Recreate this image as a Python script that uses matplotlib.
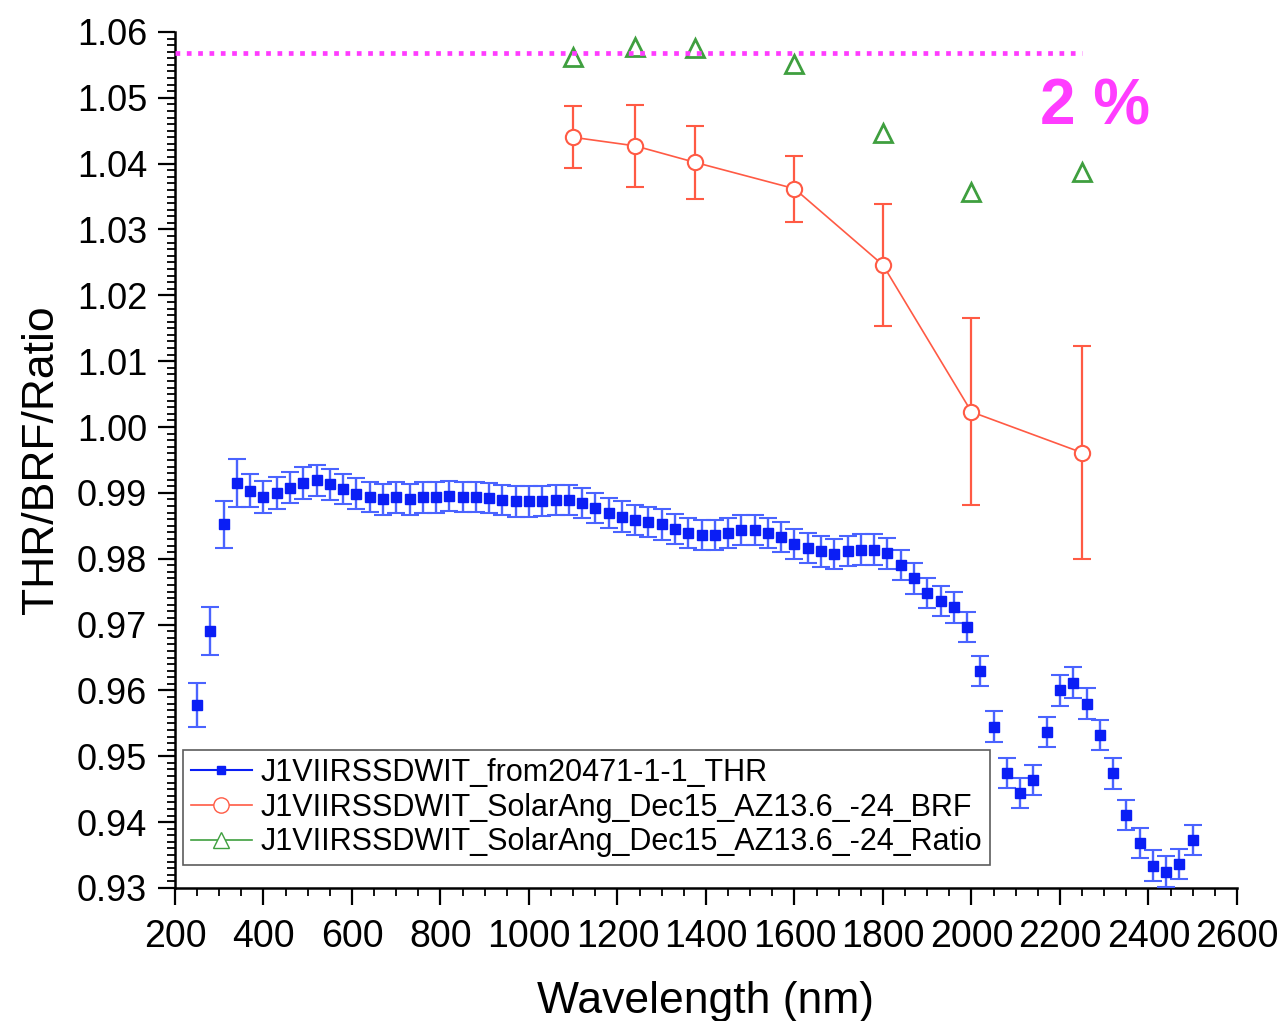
import matplotlib
matplotlib.use("Agg")
import matplotlib.pyplot as plt
from matplotlib.lines import Line2D
from matplotlib.ticker import MultipleLocator, FormatStrFormatter

plt.rcParams['font.family'] = ['Liberation Sans', 'DejaVu Sans']

# THR spectrum (blue squares)
wl_thr = [250, 280, 310, 340, 370, 400, 430, 460, 490, 520,
          550, 580, 610, 640, 670, 700, 730, 760, 790, 820,
          850, 880, 910, 940, 970, 1000, 1030, 1060, 1090, 1120,
          1150, 1180, 1210, 1240, 1270, 1300, 1330, 1360, 1390, 1420,
          1450, 1480, 1510, 1540, 1570, 1600, 1630, 1660, 1690, 1720,
          1750, 1780, 1810, 1840, 1870, 1900, 1930, 1960, 1990, 2020,
          2050, 2080, 2110, 2140, 2170, 2200, 2230, 2260, 2290, 2320,
          2350, 2380, 2410, 2440, 2470, 2500]
thr = [0.9578, 0.9690, 0.9852, 0.9915, 0.9903, 0.9894, 0.9900, 0.9908, 0.9915, 0.9919,
       0.9913, 0.9906, 0.9899, 0.9894, 0.9890, 0.9893, 0.9890, 0.9893, 0.9893, 0.9895,
       0.9894, 0.9894, 0.9892, 0.9889, 0.9887, 0.9887, 0.9888, 0.9889, 0.9889, 0.9885,
       0.9877, 0.9869, 0.9864, 0.9859, 0.9856, 0.9852, 0.9845, 0.9839, 0.9836, 0.9836,
       0.9839, 0.9844, 0.9844, 0.9839, 0.9833, 0.9822, 0.9816, 0.9811, 0.9807, 0.9812,
       0.9814, 0.9814, 0.9808, 0.9791, 0.9770, 0.9748, 0.9736, 0.9726, 0.9696, 0.9630,
       0.9545, 0.9475, 0.9444, 0.9464, 0.9537, 0.9600, 0.9612, 0.9580, 0.9532, 0.9474,
       0.9411, 0.9368, 0.9334, 0.9325, 0.9336, 0.9373]
thr_err = [0.0033, 0.0036, 0.0035, 0.0036, 0.0025, 0.0024, 0.0024, 0.0024, 0.0024, 0.0024,
           0.0024, 0.0023, 0.0023, 0.0023, 0.0023, 0.0023, 0.0023, 0.0023, 0.0023, 0.0023,
           0.0023, 0.0023, 0.0023, 0.0023, 0.0023, 0.0023, 0.0023, 0.0023, 0.0023, 0.0023,
           0.0023, 0.0023, 0.0023, 0.0023, 0.0023, 0.0023, 0.0023, 0.0023, 0.0023, 0.0023,
           0.0023, 0.0023, 0.0023, 0.0023, 0.0023, 0.0023, 0.0023, 0.0023, 0.0023, 0.0023,
           0.0023, 0.0023, 0.0023, 0.0023, 0.0023, 0.0023, 0.0023, 0.0023, 0.0023, 0.0023,
           0.0023, 0.0023, 0.0023, 0.0023, 0.0023, 0.0023, 0.0023, 0.0023, 0.0023, 0.0023,
           0.0023, 0.0023, 0.0023, 0.0023, 0.0023, 0.0023]

# BRF and ratio at the band wavelengths
wl_brf = [1100, 1240, 1375, 1600, 1800, 2000, 2250]
brf = [1.0440, 1.0427, 1.0402, 1.0362, 1.0246, 1.0023, 0.9961]
brf_err = [0.0047, 0.0062, 0.0055, 0.0050, 0.0093, 0.0142, 0.0162]
ratio = [1.0562, 1.0577, 1.0576, 1.0551, 1.0447, 1.0357, 1.0387]

labels = ['J1VIIRSSDWIT_from20471-1-1_THR',
          'J1VIIRSSDWIT_SolarAng_Dec15_AZ13.6_-24_BRF',
          'J1VIIRSSDWIT_SolarAng_Dec15_AZ13.6_-24_Ratio']

ref_level = 1.0568
ref_x = (200, 2250)

c_blue = '#0a1ef5'
c_blue_err = '#4a63ff'
c_red = '#ff5a44'
c_green = '#3f9f3f'
c_mag = '#ff3cff'

fig = plt.figure(figsize=(12.8, 10.21), dpi=100)
ax = fig.add_axes([0.1367, 0.1303, 0.8297, 0.8384])

ax.errorbar(wl_thr, thr, yerr=thr_err, fmt='s', color=c_blue, ms=6.5,
            ecolor=c_blue_err, elinewidth=1.7, capsize=6.5, capthick=1.5,
            zorder=3)
ax.errorbar(wl_brf, brf, yerr=brf_err, fmt='-o', color=c_red, lw=1.2,
            ms=11, mfc='white', mec=c_red, mew=1.5,
            elinewidth=1.6, capsize=6.5, capthick=1.6, zorder=4)
ax.plot(wl_brf, ratio, '^', ls='none', ms=12.5, mfc='none', mec=c_green,
        mew=2.0, zorder=4)

# 2 % reference line
ax.hlines(ref_level, ref_x[0], ref_x[1], colors=c_mag, lw=3.4,
          linestyles=(0, (1, 1.4)), zorder=5)
ax.text(2155, 1.0485, '2 %', color=c_mag, fontsize=46, fontweight='bold',
        ha='left', va='center')

ax.set_xlim(200, 2600)
ax.set_ylim(0.93, 1.06)
ax.xaxis.set_major_locator(MultipleLocator(200))
ax.xaxis.set_minor_locator(MultipleLocator(50))
ax.yaxis.set_major_locator(MultipleLocator(0.01))
ax.yaxis.set_minor_locator(MultipleLocator(0.001))
ax.yaxis.set_major_formatter(FormatStrFormatter('%.2f'))

for s in ['top', 'right']:
    ax.spines[s].set_visible(False)
for s in ['left', 'bottom']:
    ax.spines[s].set_linewidth(1.8)

ax.tick_params(which='major', direction='out', length=12, width=1.6)
ax.tick_params(which='minor', direction='out', length=6, width=1.3)
ax.tick_params(axis='y', labelsize=26, pad=8)
ax.tick_params(axis='x', labelsize=27, pad=10)

ax.set_xlabel('Wavelength (nm)', fontsize=32, labelpad=19)
ax.set_ylabel('THR/BRF/Ratio', fontsize=32, labelpad=11)

handles = [
    Line2D([], [], color=c_blue, lw=1.5, marker='s', ms=6),
    Line2D([], [], color=c_red, lw=1.2, marker='o', ms=11, mfc='white', mec=c_red),
    Line2D([], [], color=c_green, lw=1.2, marker='^', ms=12, mfc='white', mec=c_green),
]
leg = ax.legend(handles, labels, loc='lower left', bbox_to_anchor=(0.0075, 0.027),
                borderaxespad=0, fontsize=22, frameon=True, fancybox=False,
                handlelength=2.0, handletextpad=0.3, borderpad=0.25,
                labelspacing=0.15)
leg.get_frame().set_edgecolor('#333333')
leg.get_frame().set_linewidth(1.2)

fig.savefig('out.png', dpi=100)
